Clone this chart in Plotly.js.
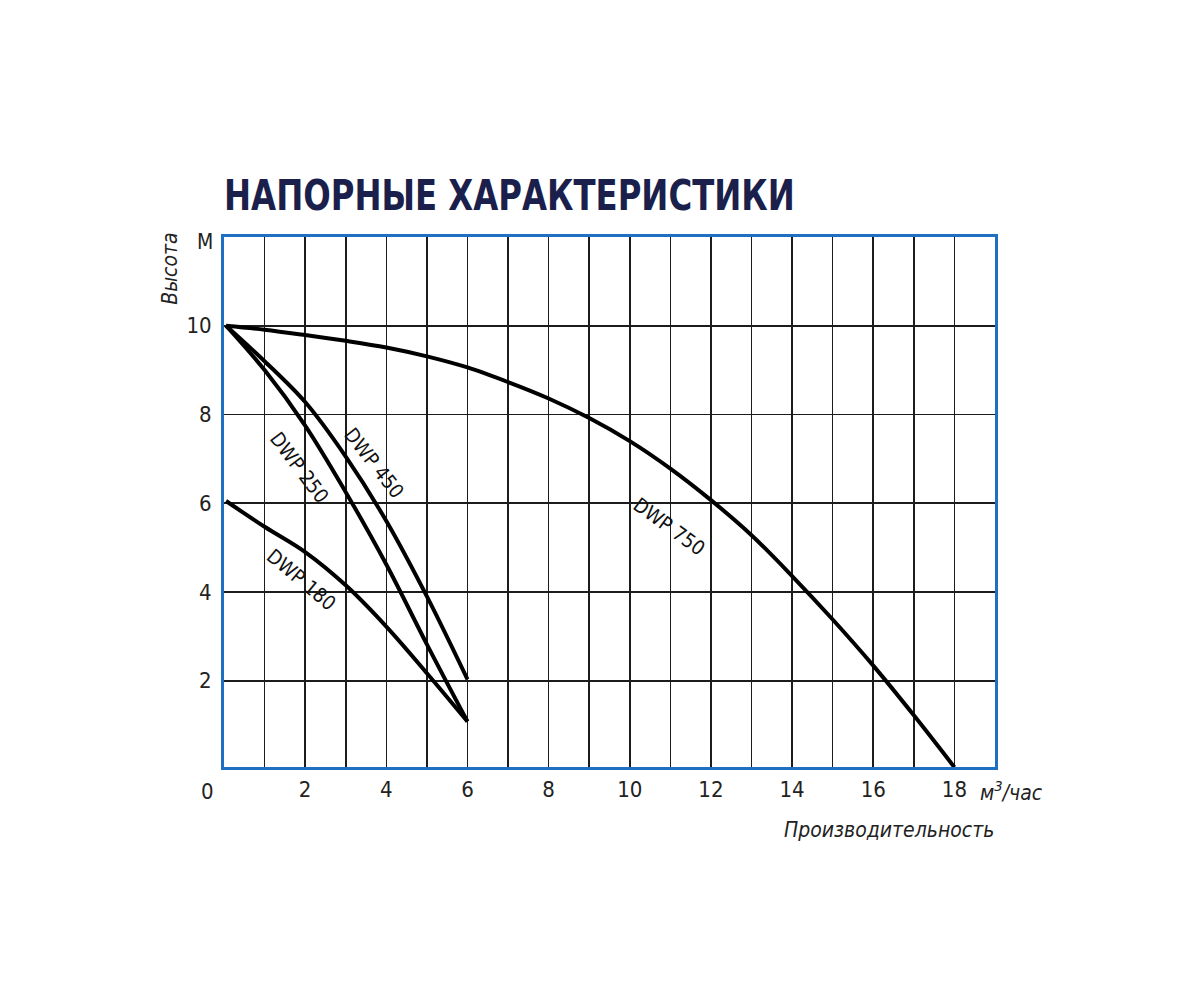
<!DOCTYPE html>
<html>
<head>
<meta charset="utf-8">
<script src="https://cdn.plot.ly/plotly-3.0.1.min.js"></script>
<style>
html,body{margin:0;padding:0;background:#fff;}
#chart{width:1200px;height:1000px;}
</style>
</head>
<body>
<div id="chart"></div>
<script>
// ---- data ----
const seriesNames = ["DWP 180", "DWP 250", "DWP 450", "DWP 750"];

const flow180 = [0.05, 1, 2, 3, 4, 5, 6];
const head180 = [6.05, 5.47, 4.9, 4.15, 3.22, 2.17, 1.08];

const flow250 = [0.05, 1, 2, 3, 4, 5, 6];
const head250 = [10, 9.0, 7.75, 6.25, 4.62, 2.82, 1.08];

const flow450 = [0.05, 1, 2, 3, 4, 5, 6];
const head450 = [10, 9.2, 8.28, 7.05, 5.6, 3.9, 2.03];

const flow750 = [0.05, 1, 2, 3, 4, 5, 6, 7, 8, 9, 10, 11, 12, 13, 14, 15, 16, 17, 18];
const head750 = [10, 9.91, 9.79, 9.66, 9.51, 9.31, 9.06, 8.73, 8.36, 7.92, 7.4, 6.78, 6.07, 5.28, 4.36, 3.38, 2.34, 1.22, 0.05];

const xTickVals = [0, 2, 4, 6, 8, 10, 12, 14, 16, 18];
const xTickText = ["", "2", "4", "6", "8", "10", "12", "14", "16", "18"];
const yTickVals = [2, 4, 6, 8, 10];
const yTickText = ["2", "4", "6", "8", "10"];

const titleText = "НАПОРНЫЕ ХАРАКТЕРИСТИКИ";
const yTitleText = "Высота";
const xTitleText = "Производительность";
const yUnitText = "М";
const xUnitText = "м<sup>3</sup>/час";
const originText = "0";

// ---- styling ----
const fontFam = "Liberation Sans Narrow, DejaVu Sans Condensed, Liberation Sans, Arial, sans-serif";
const lineStyle = {color: "#000", width: 4, shape: "spline", smoothing: 1};

const flows = [flow180, flow250, flow450, flow750];
const heads = [head180, head250, head450, head750];
const traces = seriesNames.map((n, i) => ({
  type: "scatter", mode: "lines", name: n,
  x: flows[i], y: heads[i],
  line: lineStyle, hoverinfo: "skip", cliponaxis: false
}));

const gridColor = "#1c1c1c";
const borderColor = "#1f6fc2";

const labelPos = {
  "DWP 180": {x: 1.92, y: 4.27, a: 40},
  "DWP 250": {x: 1.87, y: 6.8, a: 53},
  "DWP 450": {x: 3.70, y: 6.91, a: 52},
  "DWP 750": {x: 10.99, y: 5.47, a: 36}
};

const annotations = seriesNames.map(n => ({
  xref: "x", yref: "y", x: labelPos[n].x, y: labelPos[n].y,
  text: n, textangle: labelPos[n].a, showarrow: false,
  xanchor: "center", yanchor: "middle",
  font: {family: fontFam, size: 20, color: "#111"}
}));

annotations.push(
  {xref: "paper", yref: "paper", x: -0.0246, y: 0.9906, text: yUnitText, showarrow: false,
   xanchor: "center", yanchor: "middle", font: {family: fontFam, size: 21, color: "#222"}},
  {xref: "paper", yref: "paper", x: -0.0208, y: -0.0453, text: originText, showarrow: false,
   xanchor: "center", yanchor: "middle", font: {family: fontFam, size: 22, color: "#222"}},
  {xref: "paper", yref: "paper", x: -0.070, y: 0.94, text: yTitleText, showarrow: false,
   textangle: -90, xanchor: "center", yanchor: "middle",
   font: {family: fontFam, size: 21, color: "#222", style: "italic"}},
  {xref: "paper", yref: "paper", x: 0.863, y: -0.119, text: xTitleText, showarrow: false,
   xanchor: "center", yanchor: "middle",
   font: {family: fontFam, size: 21, color: "#222", style: "italic"}},
  {xref: "paper", yref: "paper", x: 0.978, y: -0.0453, text: xUnitText, showarrow: false,
   xanchor: "left", yanchor: "middle",
   font: {family: fontFam, size: 21, color: "#222", style: "italic"}}
);

const layout = {
  width: 1200, height: 1000,
  margin: {l: 224, r: 205, t: 237, b: 233, pad: 0},
  paper_bgcolor: "#fff", plot_bgcolor: "#fff",
  showlegend: false,
  title: {
    text: "<b>" + titleText + "</b>",
    xref: "container", yref: "container",
    x: 0.1867, xanchor: "left", y: 0.805, yanchor: "middle",
    font: {family: fontFam, size: 43, color: "#1b1f4b"}
  },
  xaxis: {
    range: [0, 19], fixedrange: true,
    tickmode: "array", tickvals: xTickVals, ticktext: xTickText,
    showgrid: true, gridcolor: gridColor, gridwidth: 1.6,
    minor: {tickmode: "linear", tick0: 0, dtick: 1, showgrid: true, gridcolor: gridColor, gridwidth: 1.6},
    zeroline: false, ticks: "",
    showline: true, linecolor: borderColor, linewidth: 3, mirror: true,
    tickfont: {family: fontFam, size: 22, color: "#222"},
    ticklabelstandoff: 1
  },
  yaxis: {
    range: [0.056, 12], fixedrange: true,
    tickmode: "array", tickvals: yTickVals, ticktext: yTickText,
    showgrid: true, gridcolor: gridColor, gridwidth: 1.6,
    zeroline: false, ticks: "",
    showline: true, linecolor: borderColor, linewidth: 3, mirror: true,
    tickfont: {family: fontFam, size: 22, color: "#222"},
    ticklabelstandoff: 5
  },
  annotations: annotations
};

Plotly.newPlot("chart", traces, layout, {staticPlot: true, displayModeBar: false}).then(gd => {
  // condense the heading horizontally so it spans the same width as in the reference
  const t = gd.querySelector(".gtitle");
  if (t) {
    const bb = t.getBBox();
    const target = 571;
    if (bb.width > target) {
      const s = target / bb.width;
      const x0 = bb.x;
      const prev = t.getAttribute("transform") || "";
      t.setAttribute("transform", prev + ` translate(${x0},0) scale(${s},1) translate(${-x0},0)`);
    }
  }
});
</script>
</body>
</html>
